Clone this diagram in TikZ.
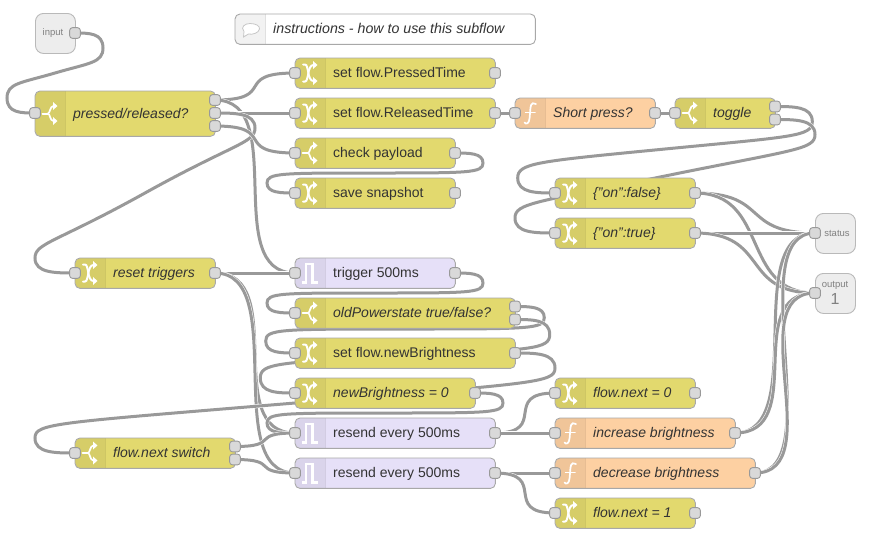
\documentclass[tikz,border=0pt]{standalone}
\usepackage{fontspec}
\setmainfont{Liberation Sans}
\pgfdeclarelayer{wires}
\pgfsetlayers{wires,main}
\definecolor{wirecol}{HTML}{999999}
\definecolor{yel}{HTML}{E2D96E}
\definecolor{org}{HTML}{FDD0A2}
\definecolor{pur}{HTML}{E6E0F8}
\definecolor{edgecol}{HTML}{A8A8A8}
\definecolor{portcol}{HTML}{D9D9D9}
\definecolor{txtcol}{HTML}{333333}
\tikzset{
  wire/.style={draw=white,line width=.5pt,double=wirecol,double distance=3pt},
  nodebody/.style={draw=none,rounded corners=5pt,minimum height=30pt,inner sep=0,anchor=north west},
  nodeedge/.style={draw=edgecol,line width=.9pt,rounded corners=5pt},
  portbox/.style={draw=wirecol,fill=portcol,line width=.9pt,rounded corners=3pt,minimum size=10.8pt,inner sep=0},
  lab/.style={anchor=base west,inner sep=0,text=txtcol,font=\fontsize{14}{14}\selectfont},
  labi/.style={anchor=base west,inner sep=0,text=txtcol,font=\fontsize{14}{14}\selectfont\itshape},
  ic/.style={draw=white,line width=2pt,line cap=round},
  ioport/.style={draw=edgecol!80,fill=black!7,line width=.9pt,rounded corners=8pt,minimum size=40pt,inner sep=0,anchor=north west},
  iolab/.style={inner sep=0,text=black!50,font=\fontsize{9.5}{9.5}\selectfont},
}
\newdimen\wx
\newcommand\wire[2]{%
  \pgfextractx\wx{\pgfpointanchor{#1}{center}}\pgfmathsetmacro\ox{\wx}%
  \pgfextracty\wx{\pgfpointanchor{#1}{center}}\pgfmathsetmacro\oy{-\wx}%
  \pgfextractx\wx{\pgfpointanchor{#2}{center}}\pgfmathsetmacro\tx{\wx}%
  \pgfextracty\wx{\pgfpointanchor{#2}{center}}\pgfmathsetmacro\ty{-\wx}%
  \pgfmathsetmacro\ddx{\tx-\ox}\pgfmathsetmacro\ddy{\ty-\oy}%
  \ifdim\ddx pt>0pt
    \pgfmathsetmacro\dl{veclen(\ddx,\ddy)}%
    \pgfmathsetmacro\sc{\dl<100?0.75*\dl:75}%
    \draw[wire] (#1.center) .. controls (\ox+\sc,\oy) and (\tx-\sc,\ty) .. (#2.center);
  \else
    \pgfmathsetmacro\sc{100*(0.4-0.2*max(0,(100-min(abs(\ddx),abs(\ddy)))/100))}%
    \pgfmathsetmacro\mx{floor(\tx-\ddx/2)}\pgfmathsetmacro\my{floor((\ty+\oy)/2)}%
    \pgfmathsetmacro\yo{(\ty+\my)/2}%
    \pgfmathsetmacro\tpx{\ox+\sc}\pgfmathsetmacro\tpy{min(\yo-\ddy/2,\oy+15)}%
    \pgfmathsetmacro\bx{\tx-\sc}\pgfmathsetmacro\by{max(\yo,\ty-15)}%
    \pgfmathsetmacro\xo{(\ox+\tpx)/2}%
    \pgfmathsetmacro\ca{max(\oy,\tpy-15)}\pgfmathsetmacro\cb{min(\my,\tpy+15)}\pgfmathsetmacro\cc{max(\my,\by-15)}%
    \draw[wire] (#1.center) .. controls (\xo,\oy) and (\tpx,\ca) .. (\tpx,\tpy)
      .. controls (\tpx,{2*\tpy-\ca}) and (\xo,\cb) .. (\mx,\my)
      .. controls ({2*\mx-\xo},{2*\my-\cb}) and (\bx,\cc) .. (\bx,\by)
      .. controls (\bx,{2*\by-\cc}) and ({(\tx+\bx)/2},\ty) .. (#2.center);
  \fi
}
% flow node: name, x, y, width, height, colour, icon, label style, text
\newcommand\flownode[9]{%
  \node[nodebody,fill=#6,minimum width=#4pt,minimum height=#5pt] (#1) at (#2,#3) {};
  \fill[black,opacity=.05] (#2+30,#3) -- (#2+5,#3) arc[start angle=90,end angle=180,radius=5pt] -- (#2,#3+#5-5) arc[start angle=180,end angle=270,radius=5pt] -- (#2+30,#3+#5) -- cycle;
  \draw[black,opacity=.08,line width=.8pt] (#2+30,#3) -- ++(0,#5);
  \draw[nodeedge] (#1.north west) rectangle (#1.south east);
  \begin{scope}[shift={(#2,#3+#5/2)}]#7\end{scope}
  \node[#8] (#1-text) at (#2+38,#3+#5/2+4.5) {#9};
}
\newcommand\portat[3]{\node[portbox] (#1) at (#2,#3) {};}
\newcommand\iconswitch{%
  \draw[ic] (7.5,0) -- (13,0);
  \draw[ic,line width=1.7pt] (13,0) .. controls (15,0) and (15,-7.5) .. (18.5,-7.5);
  \draw[ic,line width=1.7pt] (13,0) .. controls (15,0) and (15,7.5) .. (18.5,7.5);
  \fill[white] (18,-11.5) -- (22.5,-7.5) -- (18,-3.5) -- cycle;
  \fill[white] (18,11.5) -- (22.5,7.5) -- (18,3.5) -- cycle;
}
\newcommand\iconchange{%
  \draw[ic,line width=2pt] (8,-8.5) -- (10,-8.5) .. controls (14,-8.5) and (12,8) .. (18.5,8);
  \draw[ic,line width=2pt] (8,8.5) -- (10,8.5) .. controls (14,8.5) and (12,-8) .. (18.5,-8);
  \fill[white] (18,-12) -- (22.5,-8) -- (18,-4) -- cycle;
  \fill[white] (18,12) -- (22.5,8) -- (18,4) -- cycle;
}
\newcommand\iconfunc{%
  \draw[ic,line width=1.7pt] (21,-9) .. controls (15.5,-12) and (15.5,-6) .. (15.2,-2)
     -- (14.6,5) .. controls (14.2,11) and (11,11.5) .. (9.5,9.5);
  \draw[ic,line width=1.5pt] (10.5,-.5) -- (20,-.5);
}
\newcommand\icontrig{%
  \draw[ic,line cap=butt,line width=2.2pt] (6.5,9.5) -- (11,9.5) -- (11,-9) -- (17.5,-9) -- (17.5,9.5) -- (23,9.5);
}
\begin{document}
\begin{tikzpicture}[x=1pt,y=-1pt]
\useasboundingbox (0,0) rectangle (872,544);
% subflow ports
\node[ioport] (input) at (35,13) {};
\node[iolab] (input-text) at (53,33) {input};
\portat{inputP}{75}{33}
\node[ioport] (status) at (815,213) {};
\node[iolab] (status-text) at (837,233) {status};
\portat{statusP}{815}{233}
\node[ioport] (output) at (815,273) {};
\node[iolab] (output-text) at (835,285) {output};
\node[iolab,font=\fontsize{16}{16}\selectfont] (output-num) at (835,299) {1};
\portat{outputP}{815}{293}
% comment
\node[nodebody,fill=white,minimum width=300pt] (comment) at (235,14) {};
\fill[black!5] (265,14) -- (240,14) arc[start angle=90,end angle=180,radius=5pt] -- (235,39) arc[start angle=180,end angle=270,radius=5pt] -- (265,44) -- cycle;
\draw[black!12,line width=.8pt] (265,14) -- ++(0,30);
\draw[nodeedge] (comment.north west) rectangle (comment.south east);
\draw[draw=black!22,fill=white,line width=.8pt] (244,31.5) .. controls (240,27) and (245,23.5) .. (250,23.5) .. controls (256,23.5) and (260,26) .. (259.5,29) .. controls (259,33) and (252,35) .. (248.5,34) -- (243.5,37) -- cycle;
\node[labi,font=\fontsize{14.2}{14}\selectfont\itshape] (comment-text) at (273,33.5) {instructions - how to use this subflow};
% flow nodes
\flownode{pressed}{35}{91}{180}{45}{yel}{\iconswitch}{labi}{pressed/released?}
\flownode{ptime}{295}{58}{200}{30}{yel}{\iconchange}{lab}{set flow.PressedTime}
\flownode{rtime}{295}{98}{200}{30}{yel}{\iconchange}{lab}{set flow.ReleasedTime}
\flownode{short}{515}{98}{140}{30}{org}{\iconfunc}{labi}{Short press?}
\flownode{toggle}{675}{98}{100}{30}{yel}{\iconswitch}{labi}{toggle}
\flownode{check}{295}{138}{160}{30}{yel}{\iconswitch}{lab}{check payload}
\flownode{snap}{295}{178}{160}{30}{yel}{\iconchange}{lab}{save snapshot}
\flownode{onf}{555}{178}{140}{30}{yel}{\iconchange}{labi}{\{"on":false\}}
\flownode{ont}{555}{218}{140}{30}{yel}{\iconchange}{labi}{\{"on":true\}}
\flownode{reset}{75}{258}{140}{30}{yel}{\iconchange}{labi}{reset triggers}
\flownode{trig}{295}{258}{160}{30}{pur}{\icontrig}{lab}{trigger 500ms}
\flownode{old}{295}{298}{220}{30}{yel}{\iconswitch}{labi}{oldPowerstate true/false?}
\flownode{setnew}{295}{338}{220}{30}{yel}{\iconchange}{lab}{set flow.newBrightness}
\flownode{newzero}{295}{378}{180}{30}{yel}{\iconchange}{labi}{newBrightness = 0}
\flownode{resa}{295}{418}{200}{30}{pur}{\icontrig}{lab}{resend every 500ms}
\flownode{resb}{295}{458}{200}{30}{pur}{\icontrig}{lab}{resend every 500ms}
\flownode{nextsw}{75}{438}{160}{30}{yel}{\iconswitch}{labi}{flow.next switch}
\flownode{nextz}{555}{378}{140}{30}{yel}{\iconchange}{labi}{flow.next = 0}
\flownode{inc}{555}{418}{180}{30}{org}{\iconfunc}{labi}{increase brightness}
\flownode{dec}{555}{458}{200}{30}{org}{\iconfunc}{labi}{decrease brightness}
\flownode{nexto}{555}{498}{140}{30}{yel}{\iconchange}{labi}{flow.next = 1}
% ports
\portat{pressedI}{35}{113}\portat{pressedA}{215}{100}\portat{pressedB}{215}{113}\portat{pressedC}{215}{126}
\portat{ptimeI}{295}{73}\portat{ptimeO}{495}{73}
\portat{rtimeI}{295}{113}\portat{rtimeO}{495}{113}
\portat{shortI}{515}{113}\portat{shortO}{655}{113}
\portat{toggleI}{675}{113}\portat{toggleA}{775}{106.5}\portat{toggleB}{775}{119.5}
\portat{checkI}{295}{153}\portat{checkO}{455}{153}
\portat{snapI}{295}{193}\portat{snapO}{455}{193}
\portat{onfI}{555}{193}\portat{onfO}{695}{193}
\portat{ontI}{555}{233}\portat{ontO}{695}{233}
\portat{resetI}{75}{273}\portat{resetO}{215}{273}
\portat{trigI}{295}{273}\portat{trigO}{455}{273}
\portat{oldI}{295}{313}\portat{oldA}{515}{306.5}\portat{oldB}{515}{319.5}
\portat{setnewI}{295}{353}\portat{setnewO}{515}{353}
\portat{newzeroI}{295}{393}\portat{newzeroO}{475}{393}
\portat{resaI}{295}{433}\portat{resaO}{495}{433}
\portat{resbI}{295}{473}\portat{resbO}{495}{473}
\portat{nextswI}{75}{453}\portat{nextswA}{235}{446.5}\portat{nextswB}{235}{459.5}
\portat{nextzI}{555}{393}\portat{nextzO}{695}{393}
\portat{incI}{555}{433}\portat{incO}{735}{433}
\portat{decI}{555}{473}\portat{decO}{755}{473}
\portat{nextoI}{555}{513}\portat{nextoO}{695}{513}
% wires
\begin{pgfonlayer}{wires}
\wire{inputP}{pressedI}
\wire{pressedA}{ptimeI}
\wire{pressedA}{trigI}
\wire{pressedB}{rtimeI}
\wire{pressedB}{resetI}
\wire{pressedC}{checkI}
\wire{rtimeO}{shortI}
\wire{shortO}{toggleI}
\wire{checkO}{snapI}
\wire{toggleA}{onfI}
\wire{toggleB}{ontI}
\wire{onfO}{statusP}
\wire{onfO}{outputP}
\wire{ontO}{statusP}
\wire{ontO}{outputP}
\wire{resetO}{trigI}
\wire{resetO}{resaI}
\wire{resetO}{resbI}
\wire{trigO}{oldI}
\wire{oldA}{setnewI}
\wire{oldB}{newzeroI}
\wire{setnewO}{nextswI}
\wire{newzeroO}{resaI}
\wire{nextswA}{resaI}
\wire{nextswB}{resbI}
\wire{resaO}{nextzI}
\wire{resaO}{incI}
\wire{resbO}{decI}
\wire{resbO}{nextoI}
\wire{incO}{statusP}
\wire{incO}{outputP}
\wire{decO}{statusP}
\wire{decO}{outputP}
\end{pgfonlayer}
\end{tikzpicture}
\end{document}
